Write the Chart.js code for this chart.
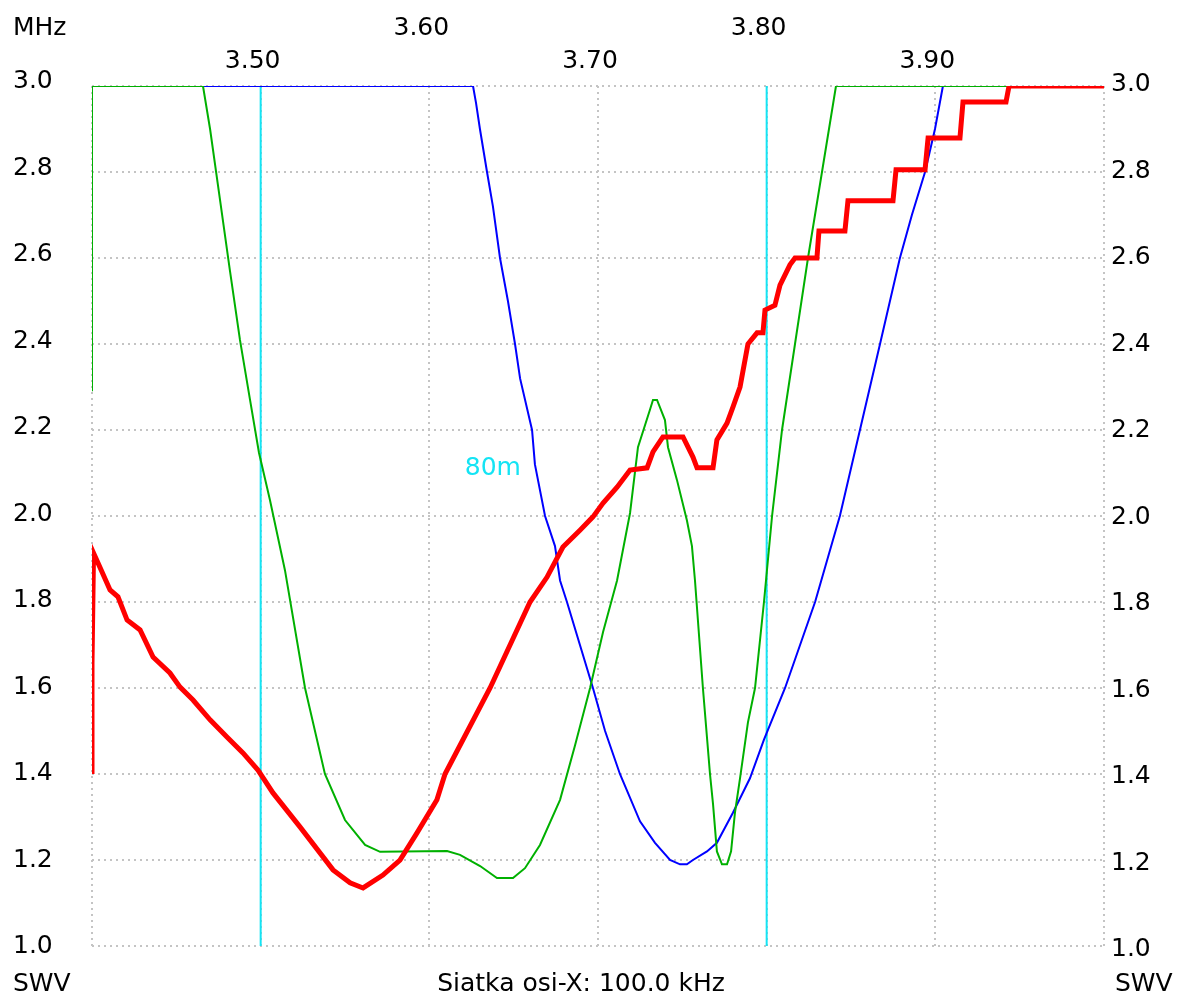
<!DOCTYPE html>
<html>
<head>
<meta charset="utf-8">
<script src="https://cdn.jsdelivr.net/npm/chart.js@4.4.1/dist/chart.umd.min.js"></script>
<style>
  html, body { margin: 0; padding: 0; background: #ffffff; }
  #wrap { width: 1181px; height: 996px; }
</style>
</head>
<body>
<div id="wrap"><canvas id="c" width="1181" height="996"></canvas></div>
<script>
// ---- data (frequency in MHz, SWR) ----
const xTickValues = [3.50, 3.60, 3.70, 3.80, 3.90];
const xTickLabels = ['3.50', '3.60', '3.70', '3.80', '3.90'];
const yTickValues = [1.0, 1.2, 1.4, 1.6, 1.8, 2.0, 2.2, 2.4, 2.6, 2.8, 3.0];
const yTickLabels = ['1.0', '1.2', '1.4', '1.6', '1.8', '2.0', '2.2', '2.4', '2.6', '2.8', '3.0'];
const bandEdges = [3.50, 3.80];
const bandName = '80m';

const blueFreq = [3.400, 3.6259, 3.6277, 3.6300, 3.6342, 3.6377, 3.6419, 3.6466, 3.6508, 3.6538, 3.6609, 3.6626,
  3.6686, 3.6745, 3.6775, 3.6816, 3.6893, 3.6970, 3.7042, 3.7130, 3.7249, 3.7338, 3.7427, 3.7486, 3.7527,
  3.7563, 3.7646, 3.7705, 3.7800, 3.7901, 3.7984, 3.8109, 3.8287, 3.8434, 3.8553, 3.8672, 3.8790, 3.8861,
  3.8939, 3.8998, 3.9045, 4.000];
const blueSwr = [3.00, 3.00, 2.96, 2.90, 2.80, 2.72, 2.60, 2.50, 2.40, 2.32, 2.20, 2.12,
  2.00, 1.93, 1.85, 1.80, 1.70, 1.60, 1.50, 1.40, 1.29, 1.24, 1.20, 1.19, 1.19,
  1.20, 1.22, 1.24, 1.31, 1.39, 1.48, 1.60, 1.80, 2.00, 2.20, 2.40, 2.60, 2.70,
  2.80, 2.90, 3.00, 3.00];

const greenFreq = [3.400, 3.400, 3.4658, 3.4700, 3.4759, 3.4818, 3.4877, 3.4937, 3.4990, 3.5055, 3.5144, 3.5263,
  3.5381, 3.5500, 3.5619, 3.5708, 3.6105, 3.6182, 3.6301, 3.6401, 3.6496, 3.6567, 3.6656, 3.6775, 3.6864,
  3.6953, 3.7030, 3.7113, 3.7190, 3.7237, 3.7308, 3.7326, 3.7350, 3.7397, 3.7415, 3.7468, 3.7527, 3.7557,
  3.7575, 3.7622, 3.7664, 3.7682, 3.7705, 3.7735, 3.7765, 3.7789, 3.7812, 3.7842, 3.7889, 3.7931, 3.7984,
  3.8032, 3.8091, 3.8168, 3.8245, 3.8328, 3.8411, 4.000];
const greenSwr = [2.29, 3.00, 3.00, 2.90, 2.735, 2.57, 2.41, 2.27, 2.147, 2.037, 1.874, 1.60,
  1.40, 1.293, 1.235, 1.219, 1.221, 1.212, 1.186, 1.158, 1.158, 1.181, 1.235, 1.34, 1.467,
  1.60, 1.73, 1.85, 2.007, 2.16, 2.247, 2.27, 2.27, 2.223, 2.16, 2.084, 1.99, 1.93,
  1.85, 1.60, 1.40, 1.33, 1.22, 1.19, 1.19, 1.22, 1.31, 1.39, 1.52, 1.60, 1.80,
  2.00, 2.20, 2.40, 2.60, 2.80, 3.00, 3.00];

const redFreq = [3.400, 3.400, 3.4009, 3.4047, 3.4107, 3.4154, 3.4208, 3.4285, 3.4362, 3.4462, 3.4522, 3.4599,
  3.4700, 3.4800, 3.4895, 3.4984, 3.5073, 3.5233, 3.5429, 3.5530, 3.5607, 3.5725, 3.5826, 3.5927, 3.6045,
  3.6093, 3.6360, 3.6597, 3.6698, 3.6792, 3.6893, 3.6970, 3.7030, 3.7113, 3.7190, 3.7291, 3.7326, 3.7385,
  3.7504, 3.7563, 3.7587, 3.7682, 3.7705, 3.7765, 3.7800, 3.7842, 3.7889, 3.7943, 3.7978, 3.7990, 3.8049,
  3.8079, 3.8138, 3.8168, 3.8298, 3.8310, 3.8464, 3.8482, 3.8749, 3.8767, 3.8939, 3.8957, 3.9146, 3.9164,
  3.9419, 3.9437, 4.000];
const redSwr = [1.40, 1.658, 1.914, 1.881, 1.828, 1.812, 1.758, 1.735, 1.672, 1.635, 1.602, 1.572,
  1.526, 1.486, 1.449, 1.409, 1.356, 1.277, 1.177, 1.147, 1.135, 1.165, 1.20, 1.263, 1.34,
  1.40, 1.60, 1.80, 1.858, 1.928, 1.967, 1.998, 2.03, 2.067, 2.107, 2.112, 2.149, 2.184,
  2.184, 2.137, 2.112, 2.112, 2.177, 2.216, 2.253, 2.30, 2.40, 2.426, 2.426, 2.479, 2.49,
  2.537, 2.584, 2.60, 2.60, 2.663, 2.663, 2.733, 2.733, 2.805, 2.805, 2.879, 2.879, 2.963,
  2.963, 3.00, 3.00];

// ---- helpers ----
const pts = (xs, ys) => xs.map((x, i) => ({ x: x, y: ys[i] }));
const FONT = '25px "DejaVu Sans", Verdana, sans-serif';
const TEXT = '#000000';
const CYAN = '#14e4f4';

const datasets = [
  { label: 'red', data: pts(redFreq, redSwr), borderColor: '#ff0000', borderWidth: 5, order: 1 },
  { label: 'green', data: pts(greenFreq, greenSwr), borderColor: '#00b000', borderWidth: 2, order: 2 },
  { label: 'blue', data: pts(blueFreq, blueSwr), borderColor: '#0000ff', borderWidth: 2, order: 3 }
];
bandEdges.forEach((f, i) => {
  datasets.push({ label: 'edge' + i, data: pts([f, f], [yTickValues[0], yTickValues[yTickValues.length - 1]]),
    borderColor: CYAN, borderWidth: 2, order: 4 });
});

const labelPlugin = {
  id: 'labels',
  afterDraw(chart) {
    const ctx = chart.ctx;
    const xs = chart.scales.x, ys = chart.scales.y;
    const a = chart.chartArea;
    ctx.save();
    ctx.font = FONT;
    ctx.fillStyle = TEXT;
    ctx.textBaseline = 'alphabetic';
    // x tick labels, staggered in two rows
    ctx.textAlign = 'center';
    xTickValues.forEach((v, i) => {
      const px = xs.getPixelForValue(v) - 8;
      const base = (i % 2 === 0) ? a.top - 18 : a.top - 51;
      ctx.fillText(xTickLabels[i], px, base);
    });
    ctx.textAlign = 'left';
    ctx.fillText('MHz', 13, a.top - 51);
    // y tick labels, both sides
    yTickValues.forEach((v, i) => {
      const py = ys.getPixelForValue(v);
      const c = py - 2 - 5 * (v - 1) / 2;
      ctx.fillText(yTickLabels[i], 13, c + 9);
      ctx.fillText(yTickLabels[i], a.right + 7, c + 12);
    });
    // bottom texts
    ctx.fillText('SWV', 13, a.bottom + 45);
    ctx.fillText('SWV', a.right + 11, a.bottom + 45);
    ctx.textAlign = 'center';
    ctx.fillText('Siatka osi-X: 100.0 kHz', 581, a.bottom + 45);
    // band label
    ctx.fillStyle = CYAN;
    ctx.textAlign = 'left';
    ctx.fillText(bandName, xs.getPixelForValue(3.621), ys.getPixelForValue(2.116) + 9);
    ctx.restore();
  }
};

new Chart(document.getElementById('c'), {
  type: 'line',
  data: { datasets: datasets },
  plugins: [labelPlugin],
  options: {
    responsive: false,
    animation: false,
    parsing: true,
    layout: { padding: { left: 92, right: 77, top: 86, bottom: 50 } },
    elements: { point: { radius: 0 }, line: { tension: 0, fill: false, borderJoinStyle: 'miter' } },
    plugins: { legend: { display: false }, tooltip: { enabled: false } },
    scales: {
      x: {
        type: 'linear', min: 3.4, max: 4.0,
        ticks: { display: false, stepSize: 0.1 },
        grid: { color: '#c4c4c4', lineWidth: 2, drawTicks: false },
        border: { display: false, dash: [2, 4] }
      },
      y: {
        type: 'linear', min: 1.0, max: 3.0,
        ticks: { display: false, stepSize: 0.2 },
        grid: { color: '#c4c4c4', lineWidth: 2, drawTicks: false },
        border: { display: false, dash: [2, 4] }
      }
    }
  }
});
</script>
</body>
</html>
